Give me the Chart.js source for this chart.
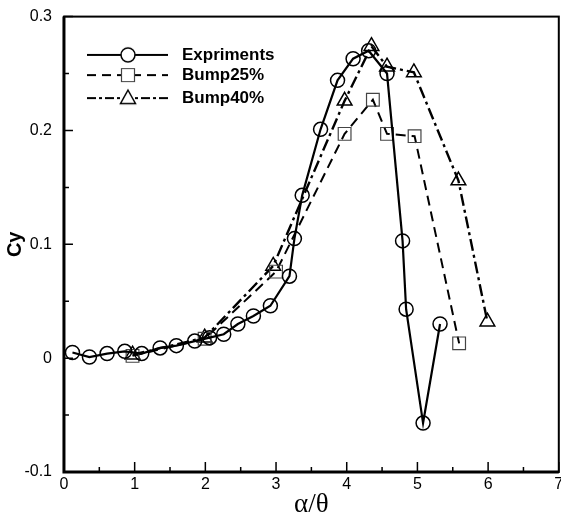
<!DOCTYPE html>
<html>
<head>
<meta charset="utf-8">
<title>Cy vs alpha/theta</title>
<script src="https://cdn.jsdelivr.net/npm/chart.js@4.4.0/dist/chart.umd.min.js"></script>
<style>
  html, body { margin: 0; padding: 0; background: #fff; overflow: hidden; width: 561px; height: 516px; }
  #wrap { position: relative; width: 569px; height: 521px; margin-top: -5px; }
</style>
</head>
<body>
<div id="wrap"><canvas id="cyChart"></canvas></div>
<script>
// Series names (legend)
const seriesNames = ["Expriments", "Bump25%", "Bump40%"];

// Expriments
const exprX = [0.12, 0.36, 0.61, 0.86, 1.10, 1.36, 1.59, 1.85, 2.06, 2.26, 2.46, 2.68, 2.92,
  3.19, 3.26, 3.37, 3.63, 3.87, 4.09, 4.31, 4.57, 4.79, 4.84, 5.08, 5.32];
const exprY = [0.005, 0.001, 0.004, 0.006, 0.004, 0.009, 0.011, 0.015, 0.018, 0.021, 0.030, 0.037, 0.046,
  0.072, 0.105, 0.143, 0.201, 0.244, 0.263, 0.270, 0.250, 0.103, 0.043, -0.057, 0.030];

// Bump25%
const bump25X = [0.97, 1.99, 3.00, 3.97, 4.37, 4.57, 4.96, 5.59];
const bump25Y = [0.002, 0.017, 0.076, 0.197, 0.227, 0.197, 0.195, 0.013];

// Bump40%
const bump40X = [0.97, 1.99, 2.96, 3.97, 4.35, 4.57, 4.95, 5.58, 5.99];
const bump40Y = [0.003, 0.018, 0.081, 0.226, 0.274, 0.256, 0.251, 0.156, 0.032];

// Tick labels
const xTickValues = [0, 1, 2, 3, 4, 5, 6, 7];
const yTickValues = [-0.1, 0, 0.1, 0.2, 0.3];

const toPoints = (xs, ys) => xs.map((x, i) => ({ x: x, y: ys[i] }));

// legend swatch: line segment with the marker in the middle
function legendSwatch(dash, lineWidth, marker) {
  const c = document.createElement("canvas");
  c.width = 84;
  c.height = 22;
  const g = c.getContext("2d");
  g.strokeStyle = "#000";
  g.lineWidth = lineWidth;
  g.setLineDash(dash);
  g.beginPath();
  g.moveTo(1, 11);
  g.lineTo(82, 11);
  g.stroke();
  g.setLineDash([]);
  g.fillStyle = "#fff";
  g.lineWidth = 1.5;
  g.beginPath();
  if (marker === "circle") {
    g.arc(42, 11, 7, 0, Math.PI * 2);
  } else if (marker === "rect") {
    g.strokeStyle = "#444";
    g.lineWidth = 1.2;
    g.rect(35.5, 4.5, 13, 13);
  } else {
    g.moveTo(42, 3);
    g.lineTo(49.5, 16.5);
    g.lineTo(34.5, 16.5);
    g.closePath();
  }
  g.fill();
  g.stroke();
  return c;
}

const swatches = [
  legendSwatch([], 2, "circle"),
  legendSwatch([9, 6], 2, "rect"),
  legendSwatch([9, 3, 3, 3], 2.2, "triangle"),
];

// legend inside the plot, top left
const insideLegend = {
  id: "insideLegend",
  afterDraw(chart) {
    const { ctx, chartArea: a } = chart;
    const rowY = [38.3, 58.5, 81.5];
    ctx.save();
    ctx.fillStyle = "#000";
    ctx.font = "bold 17px 'Liberation Sans', Arial, sans-serif";
    ctx.textBaseline = "middle";
    ctx.textAlign = "left";
    seriesNames.forEach((name, i) => {
      const cy = a.top + rowY[i];
      ctx.drawImage(swatches[i], a.left + 22, cy - 11);
      ctx.fillText(name, a.left + 118, cy);
    });
    ctx.restore();
  },
};

// frame + inward ticks
const frameTicks = {
  id: "frameTicks",
  afterDraw(chart) {
    const { ctx, chartArea: a, scales } = chart;
    const x = scales.x, y = scales.y;
    ctx.save();
    ctx.strokeStyle = "#000";
    ctx.lineWidth = 1.5;
    ctx.beginPath();
    for (let v = 0; v <= 7.0001; v += 0.5) {
      const px = x.getPixelForValue(v);
      const len = Math.abs(v - Math.round(v)) < 1e-6 ? 10 : 5;
      ctx.moveTo(px, a.bottom);
      ctx.lineTo(px, a.bottom - len);
    }
    for (let v = -0.1; v <= 0.3001; v += 0.05) {
      const py = y.getPixelForValue(v);
      const len = Math.abs(v * 10 - Math.round(v * 10)) < 1e-6 ? 9 : 5;
      ctx.moveTo(a.left, py);
      ctx.lineTo(a.left + len, py);
    }
    ctx.stroke();
    ctx.lineWidth = 2;
    ctx.strokeRect(a.left, a.top, a.right - a.left, a.bottom - a.top);
    ctx.lineWidth = 3;
    ctx.beginPath();
    ctx.moveTo(a.left, a.top);
    ctx.lineTo(a.left, a.bottom);
    ctx.lineTo(a.right, a.bottom);
    ctx.stroke();
    ctx.restore();
  },
};

new Chart(document.getElementById("cyChart").getContext("2d"), {
  type: "scatter",
  data: {
    datasets: [
      {
        label: seriesNames[0],
        data: toPoints(exprX, exprY),
        showLine: true,
        borderColor: "#000",
        borderWidth: 2.2,
        pointStyle: "circle",
        pointRadius: 7,
        pointBorderWidth: 1.5,
        pointBorderColor: "#000",
        pointBackgroundColor: "rgba(0,0,0,0)",
      },
      {
        label: seriesNames[1],
        data: toPoints(bump25X, bump25Y),
        showLine: true,
        borderColor: "#000",
        borderWidth: 2,
        borderDash: [10, 6],
        pointStyle: "rect",
        pointRadius: 9,
        pointBorderWidth: 1.2,
        pointBorderColor: "#444",
        pointBackgroundColor: "rgba(0,0,0,0)",
      },
      {
        label: seriesNames[2],
        data: toPoints(bump40X, bump40Y),
        showLine: true,
        borderColor: "#000",
        borderWidth: 2.4,
        borderDash: [12, 4, 3, 4],
        pointStyle: "triangle",
        pointRadius: 8.5,
        pointBorderWidth: 1.5,
        pointBorderColor: "#000",
        pointBackgroundColor: "rgba(0,0,0,0)",
      },
    ],
  },
  options: {
    responsive: true,
    maintainAspectRatio: false,
    animation: false,
    events: [],
    layout: { padding: { top: 5, left: 0, right: 0, bottom: 0 } },
    plugins: {
      tooltip: { enabled: false },
      legend: { display: false },
    },
    scales: {
      x: {
        type: "linear",
        min: 0,
        max: 7,
        grid: { display: false, drawTicks: false },
        border: { display: false },
        afterBuildTicks: (s) => { s.ticks = xTickValues.map((v) => ({ value: v })); },
        ticks: {
          color: "#000",
          padding: 3,
          autoSkip: false,
          maxRotation: 0,
          font: { family: "'Liberation Sans', Arial, sans-serif", size: 16 },
          callback: (v) => String(v),
        },
        title: {
          display: true,
          text: "α/θ",
          color: "#000",
          font: { family: "'Liberation Serif', serif", size: 27 },
          padding: { top: -8.4, bottom: -5.2 },
        },
      },
      y: {
        type: "linear",
        min: -0.1,
        max: 0.3,
        grid: { display: false, drawTicks: false },
        border: { display: false },
        afterBuildTicks: (s) => { s.ticks = yTickValues.map((v) => ({ value: v })); },
        ticks: {
          color: "#000",
          padding: 12,
          autoSkip: false,
          font: { family: "'Liberation Sans', Arial, sans-serif", size: 16 },
          callback: (v) => (Math.abs(v) < 1e-9 ? "0" : String(+v.toFixed(2))),
        },
        title: {
          display: true,
          text: "Cy",
          color: "#000",
          font: { family: "'Liberation Sans', Arial, sans-serif", size: 20, weight: "bold" },
          padding: { top: 3.5, bottom: -15.1 },
        },
      },
    },
  },
  plugins: [frameTicks, insideLegend],
});
</script>
</body>
</html>
